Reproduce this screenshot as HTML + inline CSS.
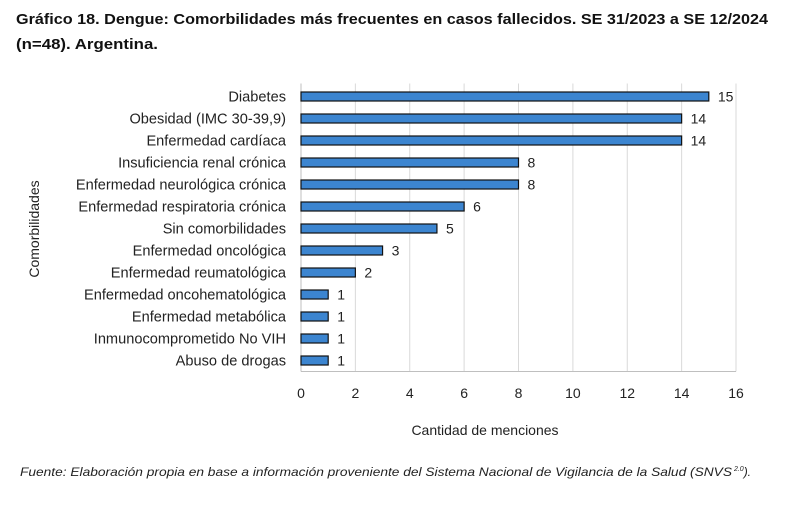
<!DOCTYPE html>
<html><head><meta charset="utf-8"><style>
body{margin:0;background:#fff;width:800px;height:503px;overflow:hidden;font-family:"Liberation Sans",sans-serif;}
</style></head><body>
<svg width="800" height="503" viewBox="0 0 800 503" id="chart">
<text x="16" y="24" font-size="15" font-weight="bold" fill="#111" textLength="752" lengthAdjust="spacingAndGlyphs">Gráfico 18. Dengue: Comorbilidades más frecuentes en casos fallecidos. SE 31/2023 a SE 12/2024</text>
<text x="16" y="49" font-size="15" font-weight="bold" fill="#111" textLength="142" lengthAdjust="spacingAndGlyphs">(n=48). Argentina.</text>
<g id="plot"></g>
<text x="485" y="435" font-size="14" fill="#222" text-anchor="middle">Cantidad de menciones</text>
<text transform="translate(39,229) rotate(-90)" font-size="14" fill="#222" text-anchor="middle">Comorbilidades</text>
<text x="20" y="476" font-size="12" font-style="italic" fill="#222"><tspan textLength="712" lengthAdjust="spacingAndGlyphs">Fuente: Elaboración propia en base a información proveniente del Sistema Nacional de Vigilancia de la Salud (SNVS</tspan><tspan font-size="7" dy="-5"> 2.0</tspan><tspan dy="5">).</tspan></text>
</svg>
<script>
const categories=["Diabetes","Obesidad (IMC 30-39,9)","Enfermedad cardíaca","Insuficiencia renal crónica","Enfermedad neurológica crónica","Enfermedad respiratoria crónica","Sin comorbilidades","Enfermedad oncológica","Enfermedad reumatológica","Enfermedad oncohematológica","Enfermedad metabólica","Inmunocomprometido No VIH","Abuso de drogas"];
const values=[15,14,14,8,8,6,5,3,2,1,1,1,1];
const ticks=[0,2,4,6,8,10,12,14,16];
const NS="http://www.w3.org/2000/svg";
const plotG=document.getElementById('plot');
const X0=301,X1=736,XMAX=16,PTOP=85.5,PBOT=371.5;
const band=(PBOT-PTOP)/categories.length;
const xs=v=>X0+(X1-X0)*v/XMAX;
const ys=i=>PTOP+band*(i+0.5);
function mk(t,a){const e=document.createElementNS(NS,t);for(const k in a)e.setAttribute(k,a[k]);plotG.appendChild(e);return e;}
ticks.forEach((t,i)=>{
  if(i>0){const l=mk('line',{x1:xs(t),x2:xs(t),y1:PTOP-2,y2:PBOT,stroke:'#d9d9d9','stroke-width':1});
  
  }
  const tx=mk('text',{x:xs(t),y:398,'font-size':14,fill:'#222','text-anchor':'middle'});tx.textContent=t;
  
  
});
const ax=mk('line',{x1:X0,x2:X0,y1:PTOP-2,y2:PBOT,stroke:'#bfbfbf','stroke-width':1});


const bx=mk('line',{x1:X0,x2:X1,y1:PBOT,y2:PBOT,stroke:'#bfbfbf','stroke-width':1});


categories.forEach((c,i)=>{
  const y=ys(i);
  const r=mk('rect',{x:X0,y:y-4.5,width:xs(values[i])-X0,height:9,fill:'#3c85d0',stroke:'#111','stroke-width':1.2});
  
  
  const lb=mk('text',{x:286,y:y+5,'font-size':14.6,fill:'#222','text-anchor':'end'});lb.textContent=c;
  
  
  const vl=mk('text',{x:xs(values[i])+9,y:y+5,'font-size':14,fill:'#222'});vl.textContent=values[i];
  
  
});
</script>
</body></html>
